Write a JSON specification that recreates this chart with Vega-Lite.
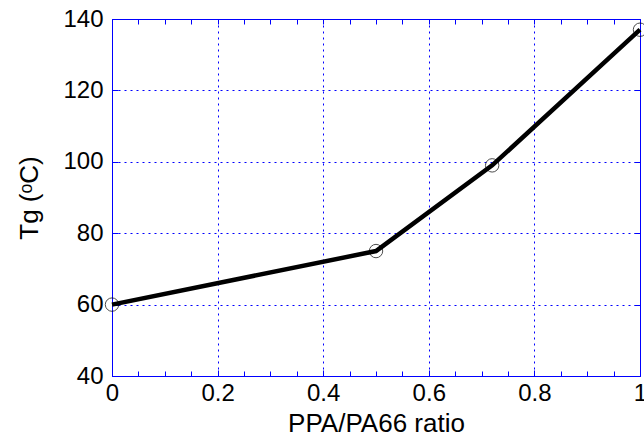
{
  "$schema": "https://vega.github.io/schema/vega-lite/v6.json",
  "width": 528,
  "height": 357,
  "autosize": {"type": "none"},
  "padding": {"left": 112, "top": 19, "right": 4, "bottom": 62},
  "background": "white",
  "config": {
    "view": {"stroke": "#0000ff", "strokeWidth": 1},
    "font": "Liberation Sans",
    "axis": {
      "labelFont": "Liberation Sans",
      "titleFont": "Liberation Sans",
      "labelFontSize": 24,
      "titleFontSize": 26,
      "labelColor": "black",
      "titleColor": "black",
      "titleFontWeight": "normal",
      "domainColor": "#0000ff",
      "tickColor": "#0000ff",
      "gridColor": "#0000ff",
      "gridOpacity": 1,
      "gridDash": [2, 4],
      "gridWidth": 1
    }
  },
  "data": {
    "values": [
      {"ratio": 0, "tg": 60},
      {"ratio": 0.5, "tg": 75},
      {"ratio": 0.72, "tg": 99},
      {"ratio": 1, "tg": 137}
    ]
  },
  "resolve": {"axis": {"x": "independent", "y": "independent"}},
  "layer": [
    {
      "mark": {"type": "line", "color": "black", "strokeWidth": 4.5},
      "encoding": {
        "x": {
          "field": "ratio", "type": "quantitative",
          "scale": {"domain": [0, 1], "nice": false, "zero": false},
          "axis": {
            "orient": "bottom", "title": "PPA/PA66 ratio",
            "values": [0, 0.2, 0.4, 0.6, 0.8, 1],
            "format": "~g", "grid": true, "tickSize": -6,
            "labelPadding": 11, "titlePadding": 5,
            "labelFlush": false
          }
        },
        "y": {
          "field": "tg", "type": "quantitative",
          "scale": {"domain": [40, 140], "nice": false, "zero": false},
          "axis": {
            "orient": "left", "title": "Tg (ᵒC)",
            "values": [40, 60, 80, 100, 120, 140],
            "grid": true, "tickSize": -6,
            "labelPadding": 15, "titlePadding": 20,
            "labelFlush": false
          }
        }
      }
    },
    {
      "mark": {"type": "point", "shape": "circle", "filled": false, "color": "black", "strokeWidth": 1, "size": 180},
      "encoding": {
        "x": {
          "field": "ratio", "type": "quantitative",
          "axis": {
            "orient": "top", "title": null, "labels": false, "grid": false,
            "values": [0.05, 0.1, 0.15, 0.2, 0.25, 0.3, 0.35, 0.4, 0.45, 0.5, 0.55, 0.6, 0.65, 0.7, 0.75, 0.8, 0.85, 0.9, 0.95],
            "tickSize": -5
          }
        },
        "y": {
          "field": "tg", "type": "quantitative",
          "axis": {
            "orient": "right", "title": null, "labels": false, "grid": false,
            "values": [60, 80, 100, 120],
            "tickSize": -6
          }
        }
      }
    },
    {
      "mark": {"type": "point", "opacity": 0},
      "encoding": {
        "x": {
          "field": "ratio", "type": "quantitative",
          "axis": {
            "orient": "bottom", "title": null, "labels": false, "grid": false, "domain": false,
            "values": [0.05, 0.1, 0.15, 0.25, 0.3, 0.35, 0.45, 0.5, 0.55, 0.65, 0.7, 0.75, 0.85, 0.9, 0.95],
            "tickSize": -5
          }
        },
        "y": {
          "field": "tg", "type": "quantitative",
          "axis": null
        }
      }
    }
  ]
}
